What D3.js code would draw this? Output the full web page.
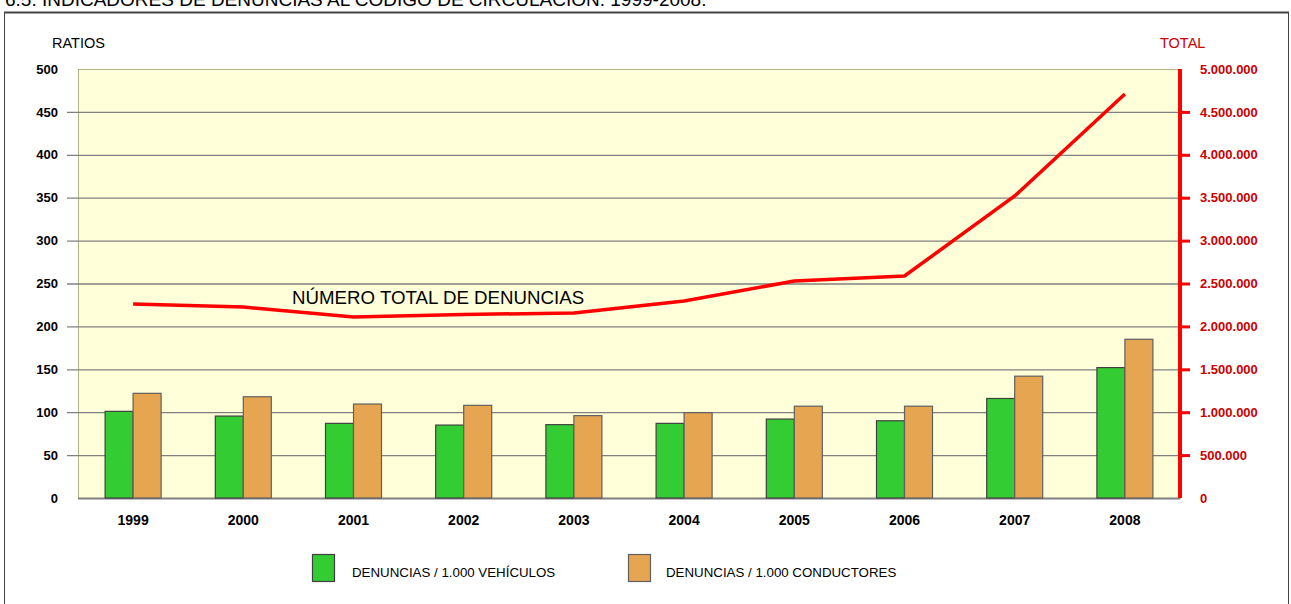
<!DOCTYPE html>
<html>
<head>
<meta charset="utf-8">
<script src="https://cdn.jsdelivr.net/npm/d3@7"></script>
<style>
  body { margin: 0; background: #fff; }
  svg { display: block; font-family: Arial, "Liberation Sans", sans-serif; }
</style>
</head>
<body>
<div id="chart"></div>
<script>
var years = ["1999", "2000", "2001", "2002", "2003", "2004", "2005", "2006", "2007", "2008"];
var porVehiculos = [101, 95.5, 87, 85, 85.5, 87, 92, 90, 116, 152];
var porConductores = [122, 118, 109.5, 108, 96, 99.5, 107, 107, 142, 185];
var totalDenuncias = [2261000, 2226000, 2110000, 2139000, 2156000, 2296000, 2529000, 2587000, 3520000, 4709000];
var leftTicks = [0, 50, 100, 150, 200, 250, 300, 350, 400, 450, 500];
var rightTicks = [0, 500000, 1000000, 1500000, 2000000, 2500000, 3000000, 3500000, 4000000, 4500000, 5000000];

function init() {
    var w = 1291;
    var h = 604;
    var left = 78, right = 1180, top = 69, bottom = 498;

    var svg = d3.select("#chart")
        .append("svg")
        .attr("width", w)
        .attr("height", h);

    // title, mostly cut off at the top (as in the original)
    svg.append("text")
        .attr("x", 5)
        .attr("y", 6)
        .attr("font-size", "19px")
        .attr("fill", "#000")
        .text("6.5. INDICADORES DE DENUNCIAS AL CÓDIGO DE CIRCULACIÓN. 1999-2008.");

    // frame
    svg.append("rect")
        .attr("x", 4.5).attr("y", 12.5)
        .attr("width", 1284).attr("height", 600)
        .attr("fill", "none")
        .attr("stroke", "#444")
        .attr("stroke-width", 1);
    svg.append("line")
        .attr("x1", 4).attr("x2", 1289)
        .attr("y1", 12.5).attr("y2", 12.5)
        .attr("stroke", "#444").attr("stroke-width", 2);

    var x = d3.scaleBand().domain(years).range([left, right]);
    var y = d3.scaleLinear().domain([0, 500]).range([bottom, top]);
    var yR = d3.scaleLinear().domain([0, 5000000]).range([bottom, top]);

    // plot background
    svg.append("rect")
        .attr("x", left + 0.5).attr("y", top + 0.5)
        .attr("width", right - left).attr("height", bottom - top)
        .attr("fill", "#ffffd9")
        .attr("stroke", "#b3b38a");

    // left axis with gridlines
    var yAxis = d3.axisLeft(y)
        .tickValues(leftTicks)
        .tickSize(-(right - left))
        .tickPadding(20)
        .tickFormat(d3.format("d"));
    var gy = svg.append("g")
        .attr("transform", "translate(" + left + ",0)")
        .call(yAxis);
    gy.select(".domain").remove();
    gy.selectAll(".tick line")
        .attr("x1", -11)
        .attr("stroke", "#808080")
        .attr("stroke-width", 1.3)
        .filter(function (d) { return d === 0 || d === 500; }).remove();
    gy.selectAll(".tick text")
        .attr("font-size", "13px")
        .attr("font-weight", "bold")
        .attr("font-family", "Arial, 'Liberation Sans', sans-serif")
        .attr("fill", "#000");

    // bottom axis line
    svg.append("line")
        .attr("x1", left).attr("x2", right)
        .attr("y1", bottom + 0.5).attr("y2", bottom + 0.5)
        .attr("stroke", "#808080").attr("stroke-width", 2);

    var xAxis = d3.axisBottom(x).tickSize(0).tickPadding(17);
    var gx = svg.append("g")
        .attr("transform", "translate(0," + bottom + ")")
        .call(xAxis);
    gx.select(".domain").remove();
    gx.selectAll(".tick text")
        .attr("font-size", "14px")
        .attr("font-weight", "bold")
        .attr("font-family", "Arial, 'Liberation Sans', sans-serif")
        .attr("fill", "#000");

    // bars
    var barW = 28;
    var g = svg.append("g");
    g.selectAll("rect.veh")
        .data(porVehiculos)
        .enter()
        .append("rect")
        .attr("class", "veh")
        .attr("x", function (d, i) { return x(years[i]) + x.bandwidth() / 2 - barW; })
        .attr("y", function (d) { return y(d); })
        .attr("width", barW)
        .attr("height", function (d) { return bottom - y(d); })
        .attr("fill", "#33cc33")
        .attr("stroke", "#404040")
        .attr("stroke-width", 1.2);
    g.selectAll("rect.cond")
        .data(porConductores)
        .enter()
        .append("rect")
        .attr("class", "cond")
        .attr("x", function (d, i) { return x(years[i]) + x.bandwidth() / 2; })
        .attr("y", function (d) { return y(d); })
        .attr("width", barW)
        .attr("height", function (d) { return bottom - y(d); })
        .attr("fill", "#e6a550")
        .attr("stroke", "#606060")
        .attr("stroke-width", 1.2);

    // total line
    var line = d3.line()
        .x(function (d, i) { return x(years[i]) + x.bandwidth() / 2; })
        .y(function (d) { return yR(d); });
    svg.append("path")
        .datum(totalDenuncias)
        .attr("d", line)
        .attr("fill", "none")
        .attr("stroke", "#ff0000")
        .attr("stroke-width", 3.5);

    svg.append("text")
        .attr("x", 292)
        .attr("y", 304)
        .attr("font-size", "18.7px")
        .attr("fill", "#000")
        .text("NÚMERO TOTAL DE DENUNCIAS");

    // right axis
    var fmt = function (d) { return d3.format(",")(d).replace(/,/g, "."); };
    var yAxisR = d3.axisRight(yR)
        .tickValues(rightTicks)
        .tickSize(10)
        .tickPadding(10)
        .tickFormat(fmt);
    var gr = svg.append("g")
        .attr("transform", "translate(" + right + ",0)")
        .call(yAxisR);
    gr.select(".domain")
        .attr("d", "M0," + top + "V" + bottom)
        .attr("stroke", "#ff0000")
        .attr("stroke-width", 4);
    gr.selectAll(".tick line")
        .attr("stroke", "#ff0000")
        .attr("stroke-width", 3)
        .filter(function (d) { return d === 0 || d === 5000000; }).remove();
    gr.selectAll(".tick text")
        .attr("font-size", "13px")
        .attr("font-weight", "bold")
        .attr("font-family", "Arial, 'Liberation Sans', sans-serif")
        .attr("fill", "#cc0000");

    // axis titles
    svg.append("text")
        .attr("x", 52).attr("y", 48)
        .attr("font-size", "14.5px")
        .attr("fill", "#000")
        .text("RATIOS");
    svg.append("text")
        .attr("x", 1160).attr("y", 48)
        .attr("font-size", "14.5px")
        .attr("fill", "#cc0000")
        .text("TOTAL");

    // legend
    var legend = [
        { label: "DENUNCIAS / 1.000 VEHÍCULOS", color: "#33cc33", stroke: "#404040", x: 312 },
        { label: "DENUNCIAS / 1.000 CONDUCTORES", color: "#e6a550", stroke: "#606060", x: 628 }
    ];
    var lg = svg.selectAll("g.legend")
        .data(legend)
        .enter()
        .append("g")
        .attr("class", "legend");
    lg.append("rect")
        .attr("x", function (d) { return d.x + 0.5; })
        .attr("y", 554.5)
        .attr("width", 22)
        .attr("height", 27)
        .attr("fill", function (d) { return d.color; })
        .attr("stroke", function (d) { return d.stroke; })
        .attr("stroke-width", 1.2);
    lg.append("text")
        .attr("x", function (d, i) { return d.x + 40 - i * 2; })
        .attr("y", 577)
        .attr("font-size", "13.3px")
        .attr("fill", "#000")
        .text(function (d) { return d.label; });
}

window.onload = init;
</script>
</body>
</html>
